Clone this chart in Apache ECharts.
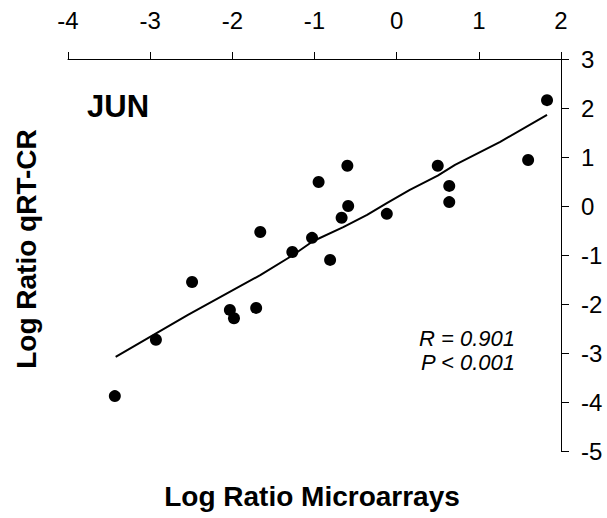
<!DOCTYPE html>
<html>
<head>
<meta charset="utf-8">
<script src="https://cdn.jsdelivr.net/npm/echarts@6/dist/echarts.min.js"></script>
<style>
html,body{margin:0;padding:0;background:#fff;}
#chart{width:607px;height:518px;}
</style>
</head>
<body>
<div id="chart"></div>
<script>
// Data
var xTicks = [-4, -3, -2, -1, 0, 1, 2];
var yTicks = [-5, -4, -3, -2, -1, 0, 1, 2, 3];
var microarrayX = [-3.43, -2.93, -2.49, -2.03, -1.98, -1.71, -1.66, -1.27, -1.03, -0.95, -0.81, -0.67, -0.60, -0.59, -0.12, 0.50, 0.64, 0.64, 1.60, 1.83];
var qrtcrY = [-3.88, -2.73, -1.55, -2.12, -2.29, -2.08, -0.53, -0.94, -0.65, 0.49, -1.10, -0.24, 0.82, 0.00, -0.16, 0.82, 0.41, 0.08, 0.94, 2.16];
var fitX = [-3.42, -2.54, -1.66, -1.26, -1.02, -0.65, -0.36, -0.12, 0.16, 0.50, 0.71, 1.26, 1.83];
var fitY = [-3.08, -2.22, -1.41, -1.00, -0.72, -0.43, -0.18, 0.06, 0.33, 0.62, 0.84, 1.31, 1.86];
var panelLabel = 'JUN';
var statR = 'R = 0.901';
var statP = 'P < 0.001';
var xTitle = 'Log Ratio Microarrays';
var yTitle = 'Log Ratio qRT-CR';

var points = microarrayX.map(function (x, i) { return [x, qrtcrY[i]]; });
var fit = fitX.map(function (x, i) { return [x, fitY[i]]; });

var FONT = '"Liberation Sans", Arial, sans-serif';
var chart = echarts.init(document.getElementById('chart'), null, {renderer: 'svg'});
chart.setOption({
  animation: false,
  backgroundColor: '#fff',
  grid: {left: 68, right: 46, top: 59, bottom: 67, containLabel: false},
  xAxis: {
    type: 'value', position: 'top',
    min: xTicks[0], max: xTicks[xTicks.length - 1], interval: 1,
    axisLine: {show: true, onZero: false, lineStyle: {color: '#000', width: 1}},
    axisTick: {show: true, inside: false, length: 7, lineStyle: {color: '#000', width: 1}},
    axisLabel: {show: true, margin: 27, color: '#000', fontSize: 24, fontFamily: FONT},
    splitLine: {show: false}
  },
  yAxis: {
    type: 'value', position: 'right',
    min: yTicks[0], max: yTicks[yTicks.length - 1], interval: 1,
    axisLine: {show: true, onZero: false, lineStyle: {color: '#000', width: 1}},
    axisTick: {show: true, inside: false, length: 8, lineStyle: {color: '#000', width: 1}},
    axisLabel: {show: true, margin: 20, color: '#000', fontSize: 24, fontFamily: FONT},
    splitLine: {show: false}
  },
  series: [
    {
      type: 'line', data: fit, showSymbol: false, symbol: 'none',
      lineStyle: {color: '#000', width: 2}, z: 2
    },
    {
      type: 'scatter', data: points, symbol: 'circle', symbolSize: 12,
      itemStyle: {color: '#000', opacity: 1}, z: 3
    }
  ],
  graphic: [
    {type: 'text', left: 87, top: 91, style: {text: panelLabel, font: 'bold 31px ' + FONT, fill: '#000'}},
    {type: 'text', x: 515, y: 338, style: {text: statR, font: 'italic 22px ' + FONT, fill: '#000', align: 'right', verticalAlign: 'middle'}},
    {type: 'text', x: 515, y: 362, style: {text: statP, font: 'italic 22px ' + FONT, fill: '#000', align: 'right', verticalAlign: 'middle'}},
    {type: 'text', x: 312, y: 496, style: {text: xTitle, font: 'bold 28px ' + FONT, fill: '#000', align: 'center', verticalAlign: 'middle'}},
    {type: 'text', x: 26, y: 249, rotation: Math.PI / 2, style: {text: yTitle, font: 'bold 28px ' + FONT, fill: '#000', align: 'center', verticalAlign: 'middle'}}
  ]
});
</script>
</body>
</html>
